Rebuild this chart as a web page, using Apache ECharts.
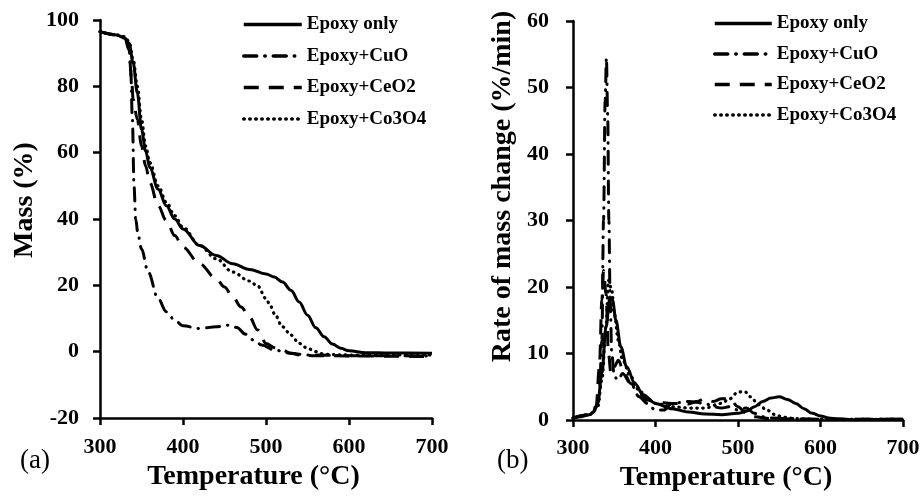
<!DOCTYPE html>
<html><head><meta charset="utf-8">
<script src="https://cdn.jsdelivr.net/npm/echarts@6/dist/echarts.min.js"></script>
<style>html,body{margin:0;padding:0;background:#fff}#c{width:923px;height:502px}</style>
</head><body><div id="c"></div>
<script>
// ---------- DATA ----------
const seriesNames = ['Epoxy only', 'Epoxy+CuO', 'Epoxy+CeO2', 'Epoxy+Co3O4'];
const xTicks = [300, 400, 500, 600, 700];

// (a) Mass (%) vs temperature
const massT_epoxy = [300,320,330,335,340,345,350,355,360,370,380,390,400,420,440,460,480,500,510,520,530,540,550,560,570,580,590,600,620,650,700];
const mass_epoxy  = [96.5,95.5,94.5,93,87,78,67,60.5,55.5,49,44,40,37,32,29,26.5,24.8,23.4,22.5,21,18.5,15,11,7.2,4.5,2.3,1,0.3,-0.3,-0.4,-0.5];
const massT_cuo = [300,320,330,335,337,339,341,343,346,350,358,370,380,390,400,420,440,455,465,475,485,495,510,530,550,600,700];
const mass_cuo  = [96.5,95.5,94.5,92,85,70,50,40,35,31,24,16,12,9.5,7.8,7,7.5,8,7.3,5.3,3.5,2,0.5,-0.5,-1,-1.2,-1.3];
const massT_ceo2 = [300,320,330,335,338,340,345,350,355,360,370,380,390,400,420,440,450,460,470,480,490,500,510,520,530,540,560,600,700];
const mass_ceo2  = [96.5,95.5,94.5,91,82,76,70,62,56,51,44,39.5,35,31.5,26.5,22,19.5,16.5,13.5,10.5,6.5,2.5,1.2,0.5,-0.5,-1,-1.2,-1.3,-1.5];
const massT_co3o4 = [300,320,330,335,340,345,350,355,360,370,380,390,400,420,440,460,480,490,500,505,510,520,530,540,550,560,570,600,700];
const mass_co3o4  = [96.5,95.5,95,93.5,88,80,70,62,57,50,45,41,37.5,32,28,24,21.3,19.8,16,14,11.5,7.5,5,2.5,1,0,-0.8,-1,-1];

// (b) Rate of mass change (%/min) vs temperature
const rateT_epoxy = [300,310,320,325,330,335,340,345,348,352,358,365,375,385,400,420,440,460,480,500,510,520,530,540,550,560,570,580,590,600,610,620,640,700];
const rate_epoxy  = [0.3,0.5,0.8,1.2,2.5,7,14,18.5,18,15,11,8,5.5,3.8,2.5,1.7,1.2,0.9,0.8,1,1.3,2,2.8,3.3,3.5,3.1,2.5,1.7,1,0.6,0.3,0.15,0.05,0.1];
const rateT_cuo = [300,320,328,332,335,337,339,340.5,342,343.5,345,347,350,355,360,370,380,390,400,410,420,440,460,470,480,490,500,510,520,530,540,560,600,700];
const rate_cuo  = [0.3,0.8,1.5,4,12,30,48,54.5,46,30,18,10,6.5,6,7,5.5,3.5,2.5,1.5,1.5,2.5,2.8,2.5,2,1.8,2,1.5,1.8,1,0.5,0.3,0.2,0.1,0.1];
const rateT_ceo2 = [300,320,328,332,335,337,340,343,346,350,355,362,370,380,390,400,420,440,450,460,470,480,490,500,510,520,540,600,700];
const rate_ceo2  = [0.3,0.8,2,8,18,22.5,19,10,7,8,9,7,5.5,4,3,2.7,2.5,2.4,2.8,3.2,2.8,3.2,3.2,2,1,0.5,0.2,0.1,0.1];
const rateT_co3o4 = [300,320,330,335,340,343,347,350,355,360,370,380,390,400,420,440,460,480,490,500,508,515,525,535,545,555,570,600,700];
const rate_co3o4  = [0.3,0.8,2,6,14,21,19.5,16,12,9,6.5,4.5,3.2,2.5,2,1.8,1.8,2.5,3.2,4.2,4.3,3.5,2.3,1.5,0.8,0.4,0.2,0.1,0.1];

// ---------- STYLE ----------
const FONT = 'Liberation Serif';
const styles = [
  {type: 'solid', width: 3, cap: 'butt'},
  {type: [13, 8, 0.5, 8], width: 3, cap: 'round'},
  {type: [15, 10], width: 3, cap: 'butt'},
  {type: [0.5, 5.5], width: 3.2, cap: 'round'}
];
const pair = (xs, ys) => xs.map((x, i) => [x, ys[i]]);
const massSets = [[massT_epoxy, mass_epoxy],[massT_cuo, mass_cuo],[massT_ceo2, mass_ceo2],[massT_co3o4, mass_co3o4]];
const rateSets = [[rateT_epoxy, rate_epoxy],[rateT_cuo, rate_cuo],[rateT_ceo2, rate_ceo2],[rateT_co3o4, rate_co3o4]];

function axisCommon(labelMargin, namePadding) {
  return {
    type: 'value',
    axisLine: {show: true, onZero: false, lineStyle: {color: '#000', width: 2.5}},
    axisTick: {show: true, inside: false, length: 7, lineStyle: {color: '#000', width: 2.5}},
    splitLine: {show: false},
    axisLabel: {color: '#000', fontFamily: FONT, fontWeight: 'bold', fontSize: 22, margin: labelMargin},
    nameTextStyle: {color: '#000', fontFamily: FONT, fontWeight: 'bold', fontSize: 28, padding: namePadding},
    nameLocation: 'middle'
  };
}

const series = [];
[massSets, rateSets].forEach((sets, gi) => {
  sets.forEach((s, i) => {
    series.push({
      name: seriesNames[i], type: 'line', xAxisIndex: gi, yAxisIndex: gi,
      data: pair(s[0], s[1]), symbol: 'none', smooth: 0.35, smoothMonotone: 'x',
      lineStyle: {color: '#000', width: styles[i].width, type: styles[i].type, cap: styles[i].cap},
      itemStyle: {color: '#000'}, z: 4 - i
    });
  });
});

function legendAt(left, top, gap, w) {
  return {
    data: seriesNames, orient: 'vertical', left: left, top: top,
    itemWidth: w, itemHeight: 14, itemGap: gap,
    selectedMode: false,
    itemStyle: {opacity: 0},
    lineStyle: {width: 3.5},
    textStyle: {color: '#000', fontFamily: FONT, fontWeight: 'bold', fontSize: 19}
  };
}

const option = {
  animation: false,
  backgroundColor: '#fff',
  title: [
    {text: '(a)', left: 20, top: 447, padding: 0, textStyle: {fontFamily: FONT, fontWeight: 'normal', fontSize: 27, color: '#000'}},
    {text: '(b)', left: 497, top: 447, padding: 0, textStyle: {fontFamily: FONT, fontWeight: 'normal', fontSize: 27, color: '#000'}}
  ],
  legend: [legendAt(237, 10, 12.5, 58), legendAt(708, 9, 11.5, 57)],
  grid: [
    {left: 100, top: 20, width: 332, height: 398},
    {left: 573, top: 21, width: 330, height: 399}
  ],
  xAxis: [
    Object.assign(axisCommon(18, [0, 25, 0, 0]), {gridIndex: 0, min: 300, max: 700, interval: 100, name: 'Temperature (°C)', nameGap: 44}),
    Object.assign(axisCommon(17, [0, 24, 0, 0]), {gridIndex: 1, min: 300, max: 700, interval: 100, name: 'Temperature (°C)', nameGap: 44})
  ],
  yAxis: [
    Object.assign(axisCommon(21, [0, 0, 0, 38]), {gridIndex: 0, min: -20, max: 100, interval: 20, name: 'Mass (%)', nameGap: 61}),
    Object.assign(axisCommon(24, [0, 0, 0, 68]), {gridIndex: 1, min: 0, max: 60, interval: 10, name: 'Rate of mass change (%/min)', nameGap: 56})
  ],
  series: series
};
echarts.init(document.getElementById('c'), null, {renderer: 'canvas'}).setOption(option);
</script></body></html>
